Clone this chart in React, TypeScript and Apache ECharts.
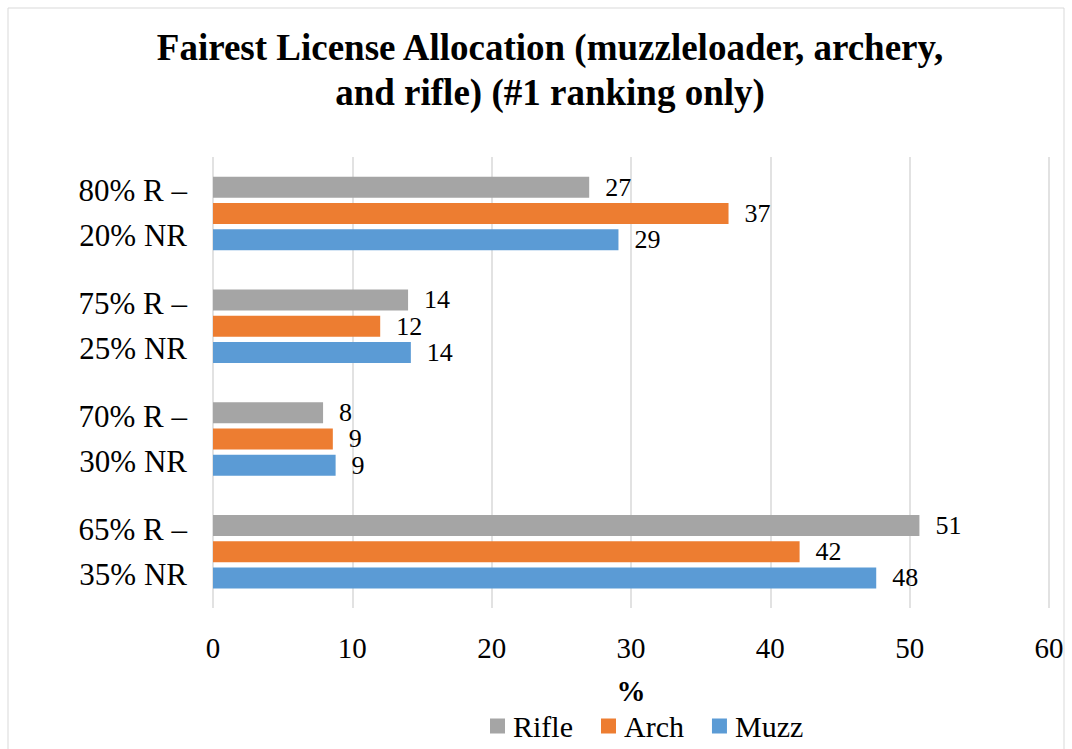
import React, { useEffect, useRef } from "react";
import * as echarts from "echarts";

const categories = ["65% R –\n35% NR", "70% R –\n30% NR", "75% R –\n25% NR", "80% R –\n20% NR"];
const rifle = [50.7, 7.9, 14.0, 27.0];
const arch = [42.1, 8.6, 12.0, 37.0];
const muzz = [47.6, 8.8, 14.2, 29.1];
const xTicks = { min: 0, max: 60, interval: 10 };
const titleText = "Fairest License Allocation (muzzleloader, archery,\nand rifle) (#1 ranking only)";

const FONT = "Liberation Serif";

export default function App() {
  const ref = useRef<HTMLDivElement>(null);
  useEffect(() => {
    if (!ref.current) return;
    const chart = echarts.init(ref.current, undefined, { renderer: "svg" });
    const label = {
      show: true,
      position: "right" as const,
      distance: 16,
      fontFamily: FONT,
      fontSize: 26,
      color: "#000",
      formatter: (p: any) => String(Math.round(p.value)),
    };
    const mk = (name: string, data: number[], color: string) => ({
      name,
      type: "bar",
      data,
      barWidth: 21,
      barGap: "25%",
      itemStyle: { color },
      label,
    });
    chart.setOption({
      animation: false,
      backgroundColor: "#fff",
      textStyle: { fontFamily: FONT },
      title: {
        text: titleText,
        left: 545,
        textAlign: "center",
        top: 20,
        textStyle: { fontFamily: FONT, fontSize: 37, fontWeight: "bold", color: "#000", lineHeight: 45 },
      },
      graphic: [
        {
          type: "rect",
          shape: { x: 8, y: 8, width: 1056, height: 780 },
          style: { fill: "none", stroke: "#D9D9D9", lineWidth: 1 },
          silent: true,
        },
      ],
      legend: {
        data: ["Rifle", "Arch", "Muzz"],
        left: 485,
        top: 706,
        itemWidth: 15,
        itemHeight: 15,
        itemGap: 28,
        icon: "rect",
        textStyle: { fontFamily: FONT, fontSize: 30, color: "#000", padding: [0, 0, 0, 3] },
      },
      grid: { left: 213, right: 23, top: 157, bottom: 141, containLabel: false },
      xAxis: {
        type: "value",
        min: xTicks.min,
        max: xTicks.max,
        interval: xTicks.interval,
        axisLine: { show: false },
        axisTick: { show: false },
        splitLine: { show: true, lineStyle: { color: "#D9D9D9", width: 1.5 } },
        axisLabel: { fontFamily: FONT, fontSize: 29, color: "#000", margin: 25 },
        name: "%",
        nameLocation: "middle",
        nameGap: 68,
        nameTextStyle: { fontFamily: FONT, fontSize: 29, fontWeight: "bold", color: "#000" },
      },
      yAxis: {
        type: "category",
        data: categories,
        axisLine: { show: false },
        axisTick: { show: false },
        axisLabel: {
          fontFamily: FONT,
          fontSize: 31,
          color: "#000",
          lineHeight: 45,
          margin: 26,
          align: "right",
        },
      },
      series: [mk("Rifle", rifle, "#A5A5A5"), mk("Arch", arch, "#ED7D31"), mk("Muzz", muzz, "#5B9BD5")],
    });
    return () => chart.dispose();
  }, []);
  return <div ref={ref} style={{ position: "absolute", left: 0, top: 0, width: 1072, height: 749 }} />;
}
